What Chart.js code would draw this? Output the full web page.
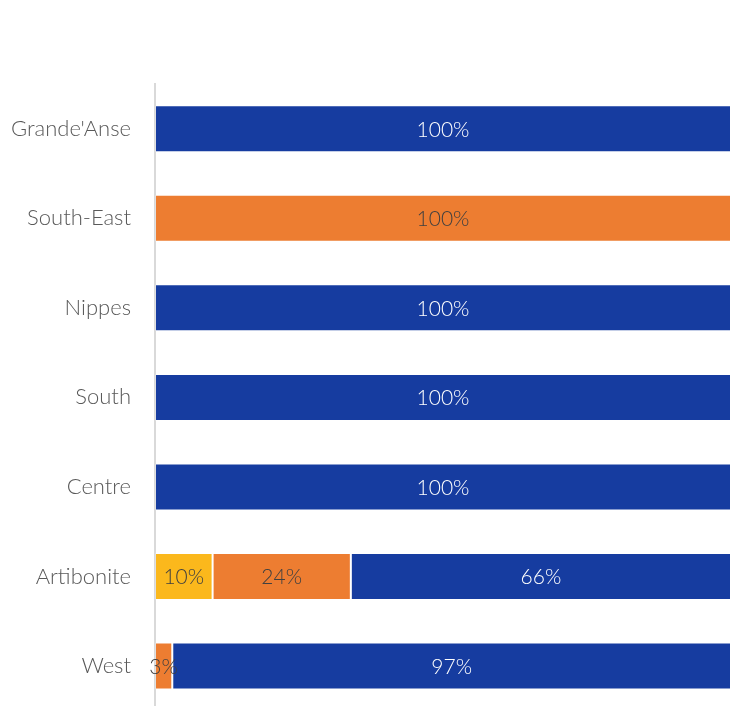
<!DOCTYPE html>
<html>
<head>
<meta charset="utf-8">
<script src="https://cdn.jsdelivr.net/npm/chart.js@4/dist/chart.umd.min.js"></script>
<style>
  html, body { margin: 0; padding: 0; background: #fff; overflow: hidden; }
  canvas { display: block; }
</style>
</head>
<body>
<canvas id="chart" width="741" height="748"></canvas>
<script>
// regions, top to bottom
const departments = ["Grande'Anse", "South-East", "Nippes", "South", "Centre", "Artibonite", "West"];

// shares in percent, stacked left to right
const yellowShare = [0, 0, 0, 0, 0, 10, 0];
const orangeShare = [0, 100, 0, 0, 0, 24, 3];
const blueShare   = [100, 0, 100, 100, 100, 66, 97];

const fontFamily = "'Lato', 'Open Sans', sans-serif";

// draws the % value in the middle of each segment
const barLabels = {
  id: "barLabels",
  afterDatasetsDraw(chart) {
    const ctx = chart.ctx;
    ctx.save();
    ctx.font = "300 21px " + fontFamily;
    ctx.textAlign = "center";
    ctx.textBaseline = "middle";
    chart.data.datasets.forEach((ds, i) => {
      const meta = chart.getDatasetMeta(i);
      meta.data.forEach((bar, j) => {
        const v = ds.data[j];
        if (!v) return;
        const p = bar.getProps(["x", "y", "base"], true);
        ctx.fillStyle = ds.labelColor;
        ctx.fillText(v + "%", (p.x + p.base) / 2, p.y + 1);
      });
    });
    ctx.restore();
  }
};

new Chart(document.getElementById("chart"), {
  type: "bar",
  data: {
    labels: departments,
    datasets: [
      { label: "Yellow", data: yellowShare, backgroundColor: "#FBB81C", labelColor: "#404040" },
      { label: "Orange", data: orangeShare, backgroundColor: "#ED7D31", labelColor: "#404040" },
      { label: "Blue", data: blueShare, backgroundColor: "#163CA0", labelColor: "#ffffff" }
    ].map(d => Object.assign(d, {
      borderColor: "rgba(255,255,255,0.18)",
      borderWidth: 1,
      borderSkipped: false,
      categoryPercentage: 1,
      barPercentage: 0.525
    }))
  },
  options: {
    indexAxis: "y",
    responsive: false,
    animation: false,
    layout: { padding: { top: 84, right: 10, bottom: 0, left: 0 } },
    plugins: {
      legend: { display: false },
      tooltip: { enabled: false }
    },
    scales: {
      x: {
        stacked: true,
        min: 0,
        max: 100,
        display: false
      },
      y: {
        stacked: true,
        afterFit(scale) { scale.width = 155; },
        grid: { display: false, drawTicks: false },
        border: { display: true, color: "#d9d9d9", width: 2 },
        ticks: {
          padding: 24,
          color: "#595959",
          font: { family: fontFamily, size: 22, weight: 300 }
        }
      }
    }
  },
  plugins: [barLabels]
});
</script>
</body>
</html>
